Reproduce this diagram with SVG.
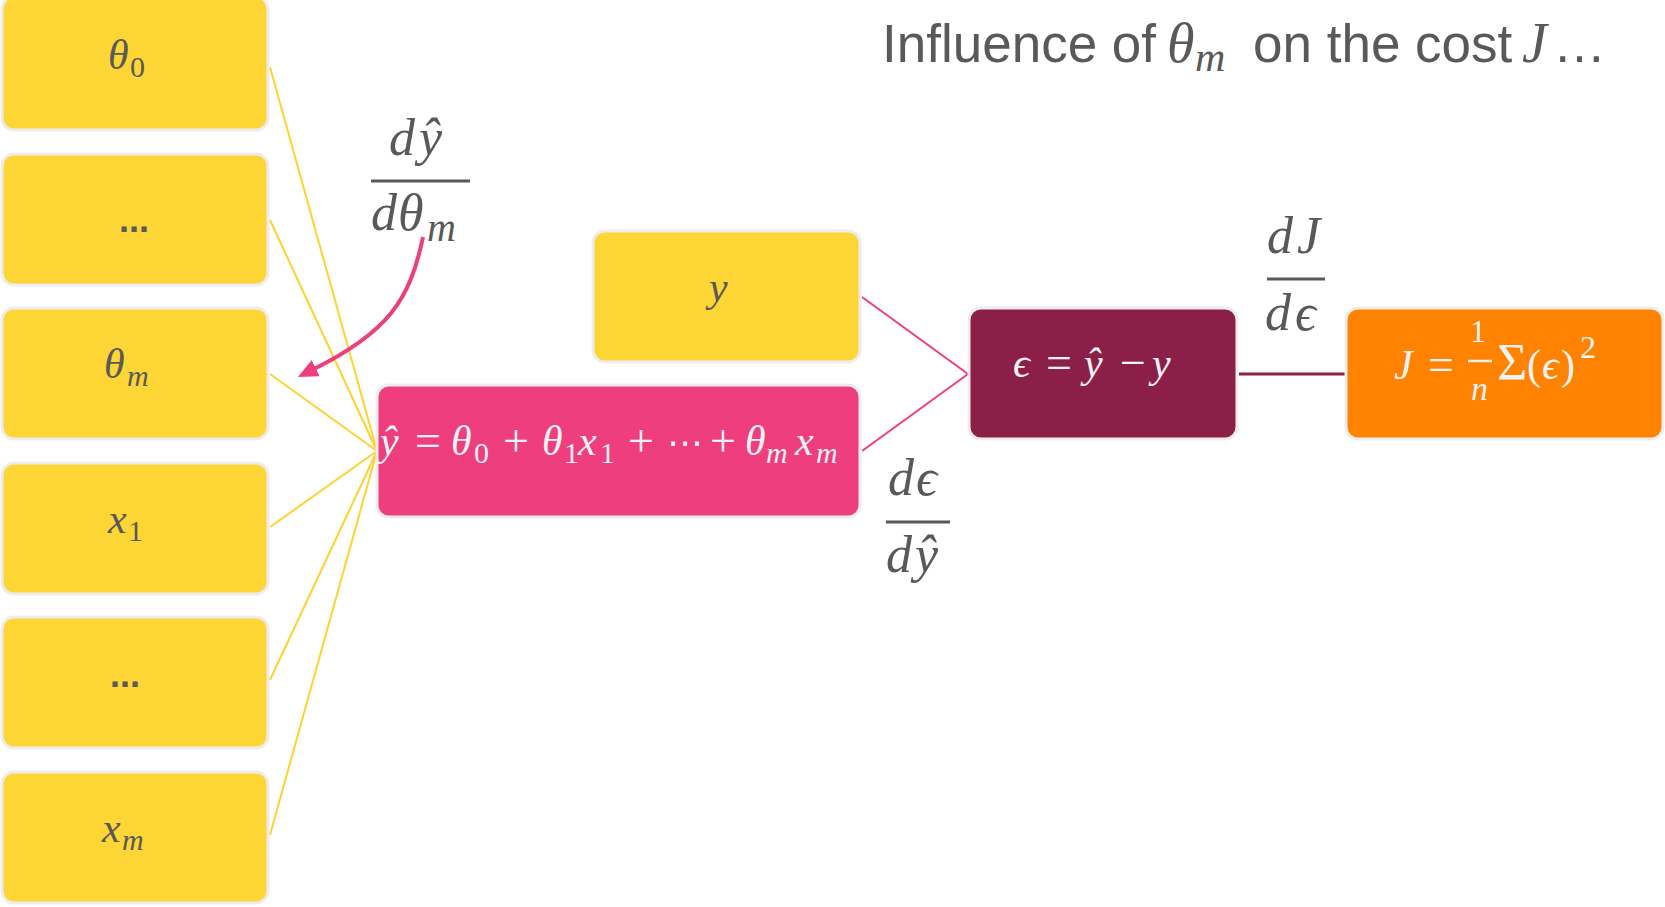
<svg xmlns="http://www.w3.org/2000/svg" width="1665" height="907" viewBox="0 0 1665 907">
<style>
.box{stroke:#EDEDED;stroke-width:3}
.yel{fill:#FDD535}
.pink{fill:#EE3E7E}
.mar{fill:#8C1F47}
.org{fill:#FF8200}
.m{font-family:"Liberation Serif","DejaVu Serif",serif;font-style:italic;font-size:42px}
.u{font-style:normal}
.op{font-style:normal;font-size:46px}
.s{font-size:30px}
.dk{fill:#595959}
.lt{fill:#F2F2F2}
.fr{font-family:"Liberation Serif","DejaVu Serif",serif;font-style:italic;font-size:52px;fill:#595959}
.bar{stroke:#595959;stroke-width:3}
.ttl{font-family:"Liberation Sans",Arial,sans-serif;font-size:53px;fill:#595959}
.tm{font-family:"Liberation Serif","DejaVu Serif",serif;font-style:italic}
.dots{font-family:"Liberation Sans",Arial,sans-serif;font-weight:bold;font-size:36px;fill:#595959;text-anchor:middle}
.yl{stroke:#FFD22E;stroke-width:2;fill:none}
.pl{stroke:#EE3E7E;stroke-width:2;fill:none}
</style>
<defs>
<marker id="ah" markerUnits="userSpaceOnUse" markerWidth="20" markerHeight="18" viewBox="0 0 20 18" refX="2" refY="9" orient="auto">
<path d="M0,0 L20,9 L0,18 z" fill="#EE3E7E"/>
</marker>
</defs>

<g id="connectors">
<line class="yl" x1="270" y1="67" x2="377" y2="451"/>
<line class="yl" x1="270" y1="220" x2="377" y2="451"/>
<line class="yl" x1="270" y1="374" x2="377" y2="451"/>
<line class="yl" x1="270" y1="527" x2="377" y2="451"/>
<line class="yl" x1="270" y1="680" x2="377" y2="451"/>
<line class="yl" x1="270" y1="835" x2="377" y2="451"/>
<line class="pl" x1="862" y1="297" x2="968" y2="374"/>
<line class="pl" x1="862" y1="451" x2="968" y2="374"/>
<line x1="1239" y1="374" x2="1345" y2="374" stroke="#8C1F47" stroke-width="3"/>
<path d="M423,237 C410,300 388,332 314,369" fill="none" stroke="#EE3E7E" stroke-width="4" marker-end="url(#ah)"/>
</g>

<g id="node-theta0">
<rect class="box yel" x="2" y="-3" width="266" height="133" rx="12"/>
<text class="m dk"><tspan x="108" y="69">θ</tspan><tspan class="u s" x="130" y="77">0</tspan></text>
</g>
<g id="node-dots1">
<rect class="box yel" x="2" y="154" width="266" height="131" rx="12"/>
<text class="dots" x="134" y="232">...</text>
</g>
<g id="node-thetam">
<rect class="box yel" x="2" y="308" width="266" height="131" rx="12"/>
<text class="m dk"><tspan x="104" y="378">θ</tspan><tspan class="s" x="127" y="386">m</tspan></text>
</g>
<g id="node-x1">
<rect class="box yel" x="2" y="463" width="266" height="131" rx="12"/>
<text class="m dk"><tspan x="108" y="533">x</tspan><tspan class="u s" x="128" y="541">1</tspan></text>
</g>
<g id="node-dots2">
<rect class="box yel" x="2" y="617" width="266" height="131" rx="12"/>
<text class="dots" x="125" y="687">...</text>
</g>
<g id="node-xm">
<rect class="box yel" x="2" y="772" width="266" height="131" rx="12"/>
<text class="m dk"><tspan x="102" y="842">x</tspan><tspan class="s" x="122" y="850">m</tspan></text>
</g>

<g id="node-y">
<rect class="box yel" x="593" y="231" width="267" height="131" rx="12"/>
<text class="m dk" x="709" y="301">y</text>
</g>

<g id="node-yhat">
<rect class="box pink" x="377" y="385" width="483" height="132" rx="12"/>
<text class="m lt">
<tspan x="380" y="455">ŷ</tspan>
<tspan class="op" x="415" y="456">=</tspan>
<tspan x="451" y="455">θ</tspan><tspan class="u s" x="474" y="463">0</tspan>
<tspan class="op" x="503" y="456">+</tspan>
<tspan x="542" y="455">θ</tspan><tspan class="u s" x="564" y="463">1</tspan><tspan x="578" y="455">x</tspan><tspan class="u s" x="600" y="463">1</tspan>
<tspan class="op" x="628" y="456">+</tspan>
<tspan class="u" x="667" y="455" style="font-family:'DejaVu Sans',sans-serif;font-size:36px">⋯</tspan>
<tspan class="op" x="710" y="456">+</tspan>
<tspan x="745" y="455">θ</tspan><tspan class="s" x="766" y="463">m</tspan><tspan x="795" y="455">x</tspan><tspan class="s" x="816" y="463">m</tspan>
</text>
</g>

<g id="node-eps">
<rect class="box mar" x="969" y="308" width="268" height="131" rx="12"/>
<text class="m lt">
<tspan x="1013" y="377">ϵ</tspan>
<tspan class="op" x="1046" y="378">=</tspan>
<tspan x="1084" y="377">ŷ</tspan>
<tspan class="op" x="1120" y="378">−</tspan>
<tspan x="1152" y="377">y</tspan>
</text>
</g>

<g id="node-J">
<rect class="box org" x="1346" y="308" width="317" height="131" rx="12"/>
<text class="m lt">
<tspan x="1394" y="379">J</tspan>
<tspan class="op" x="1428" y="380">=</tspan>
<tspan class="u" x="1470" y="342" style="font-size:32px">1</tspan>
<tspan x="1471" y="400" style="font-size:34px">n</tspan>
<tspan class="u" x="1497" y="380" style="font-size:52px">Σ</tspan>
<tspan class="u" x="1527" y="379">(</tspan>
<tspan x="1542" y="379">ϵ</tspan>
<tspan class="u" x="1561" y="379">)</tspan>
<tspan class="u" x="1580" y="358" style="font-size:32px">2</tspan>
</text>
<line x1="1468" y1="361" x2="1492" y2="361" stroke="#F2F2F2" stroke-width="2.5"/>
</g>

<g id="label-dyhat-dthetam">
<text class="fr"><tspan x="389" y="155">d</tspan><tspan x="419" y="155">ŷ</tspan></text>
<line class="bar" x1="371" y1="181" x2="470" y2="181"/>
<text class="fr"><tspan x="371" y="230">d</tspan><tspan x="398" y="230">θ</tspan><tspan style="font-size:40px" x="427" y="241">m</tspan></text>
</g>

<g id="label-deps-dyhat">
<text class="fr"><tspan x="888" y="495">d</tspan><tspan x="916" y="495">ϵ</tspan></text>
<line class="bar" x1="886" y1="522" x2="950" y2="522"/>
<text class="fr"><tspan x="886" y="572">d</tspan><tspan x="915" y="572">ŷ</tspan></text>
</g>

<g id="label-dJ-deps">
<text class="fr"><tspan x="1267" y="253">d</tspan><tspan x="1297" y="253">J</tspan></text>
<line class="bar" x1="1267" y1="279" x2="1325" y2="279"/>
<text class="fr"><tspan x="1265" y="330">d</tspan><tspan x="1295" y="330">ϵ</tspan></text>
</g>

<g id="title">
<text class="ttl"><tspan x="882" y="62">Influence of</tspan><tspan class="tm" x="1167" y="62" style="font-size:56px">θ</tspan><tspan class="tm" x="1195" y="71" style="font-size:42px">m</tspan><tspan x="1253" y="62">on the cost</tspan><tspan class="tm" x="1522" y="62" style="font-size:56px">J</tspan><tspan x="1553" y="62">…</tspan></text>
</g>
</svg>
